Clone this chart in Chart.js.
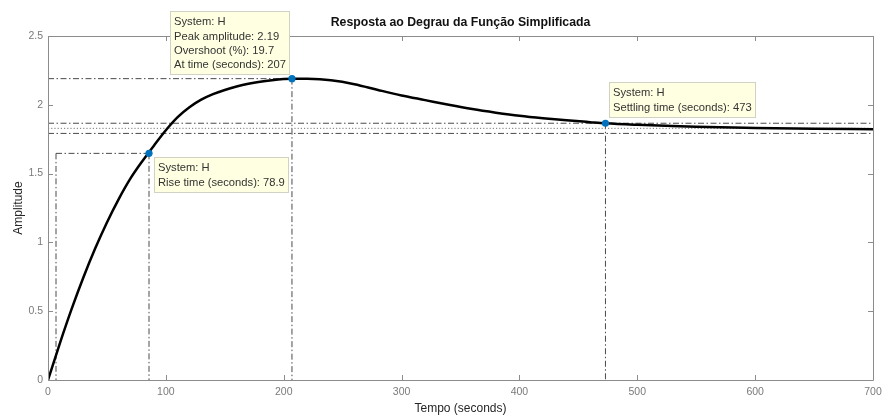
<!DOCTYPE html>
<html>
<head>
<meta charset="utf-8">
<script src="https://cdn.jsdelivr.net/npm/chart.js@4"></script>
<style>
  html, body { margin: 0; padding: 0; background: #ffffff; }
  #wrap { width: 882px; height: 416px; }
</style>
</head>
<body>
<div id="wrap"><canvas id="step" width="882" height="416"></canvas></div>
<script>
// Step response of the simplified transfer function H
const timeSec = [0, 10, 20, 30, 40, 50, 60, 70, 80, 90, 100, 110, 120, 130, 140, 150, 160, 170, 180, 190,
                 200, 207, 220, 240, 260, 280, 300, 320, 340, 360, 380, 400, 420, 440, 460, 473, 500, 525,
                 550, 600, 650, 700];
const amplitude = [0, 0.265, 0.515, 0.745, 0.955, 1.145, 1.315, 1.465, 1.59, 1.705, 1.815, 1.91, 1.982, 2.037,
                   2.077, 2.108, 2.133, 2.153, 2.168, 2.179, 2.187, 2.19, 2.189, 2.178, 2.15, 2.108, 2.068,
                   2.034, 2.0, 1.969, 1.943, 1.92, 1.902, 1.887, 1.874, 1.866, 1.855, 1.847, 1.84, 1.832,
                   1.826, 1.822];

// Step characteristics
const riseTimes = [6.8, 85.7];          // 10% and 90% crossing times
const riseLevel = 1.647;                // 90% of final value
const peakTime = 207;
const peakAmp = 2.19;
const settleTime = 473;
const finalValue = 1.829;
const settleBand = [1.792, 1.866];      // +/- 2% band

const xTicks = [0, 100, 200, 300, 400, 500, 600, 700];
const yTicks = [0, 0.5, 1, 1.5, 2, 2.5];

const chartTitle = 'Resposta ao Degrau da Função Simplificada';
const riseText = ['System: H', 'Rise time (seconds): 78.9'];
const peakText = ['System: H', 'Peak amplitude: 2.19', 'Overshoot (%): 19.7', 'At time (seconds): 207'];
const settleText = ['System: H', 'Settling time (seconds): 473'];

const FONT = '"Liberation Sans", Arial, Helvetica, sans-serif';
const DASHDOT = [6, 2.5, 1.5, 2.5];
const LINE_GREY = '#4a4a4a';

const xMin = xTicks[0], xMax = xTicks[xTicks.length - 1];

function seg(points) { return points.map(p => ({ x: p[0], y: p[1] })); }

const charLine = (points, dash, color) => ({
  type: 'line',
  data: seg(points),
  borderColor: color || LINE_GREY,
  borderWidth: 1,
  borderDash: dash || DASHDOT,
  pointRadius: 0,
  tension: 0,
  order: 3
});

const datasets = [
  {
    label: 'H',
    type: 'line',
    data: timeSec.map((t, i) => ({ x: t, y: amplitude[i] })),
    borderColor: '#000000',
    borderWidth: 2.5,
    pointRadius: 0,
    cubicInterpolationMode: 'monotone',
    order: 1
  },
  // peak
  charLine([[xMin, peakAmp], [peakTime, peakAmp]]),
  charLine([[peakTime, peakAmp], [peakTime, 0]]),
  // rise
  charLine([[riseTimes[0], riseLevel], [riseTimes[1], riseLevel]]),
  charLine([[riseTimes[0], riseLevel], [riseTimes[0], 0]]),
  charLine([[riseTimes[1], riseLevel], [riseTimes[1], 0]]),
  // settling
  charLine([[xMin, settleBand[1]], [xMax, settleBand[1]]]),
  charLine([[xMin, settleBand[0]], [xMax, settleBand[0]]]),
  charLine([[xMin, finalValue], [xMax, finalValue]], [1.2, 2], '#777777'),
  charLine([[settleTime, settleBand[1]], [settleTime, 0]]),
  {
    type: 'scatter',
    data: seg([[riseTimes[1], riseLevel], [peakTime, peakAmp], [settleTime, settleBand[1]]]),
    backgroundColor: '#0072BD',
    borderColor: '#0072BD',
    pointRadius: 3.6,
    pointBorderWidth: 0,
    order: 0
  }
];

// Axes frame with inward tick marks on all four sides, plus the title centred over the plot
const framePlugin = {
  id: 'frame',
  afterDatasetsDraw(chart) {
    const { ctx, chartArea: a, scales: { x, y } } = chart;
    ctx.save();
    ctx.strokeStyle = '#8c8c8c';
    ctx.lineWidth = 1;
    ctx.beginPath();
    ctx.rect(Math.round(a.left) + 0.5, Math.round(a.top) + 0.5,
             Math.round(a.right - a.left), Math.round(a.bottom - a.top));
    const len = 5;
    xTicks.forEach(v => {
      const px = Math.round(x.getPixelForValue(v)) + 0.5;
      ctx.moveTo(px, a.bottom); ctx.lineTo(px, a.bottom - len);
      ctx.moveTo(px, a.top); ctx.lineTo(px, a.top + len);
    });
    yTicks.forEach(v => {
      const py = Math.round(y.getPixelForValue(v)) + 0.5;
      ctx.moveTo(a.left, py); ctx.lineTo(a.left + len, py);
      ctx.moveTo(a.right, py); ctx.lineTo(a.right - len, py);
    });
    ctx.stroke();

    ctx.fillStyle = '#111111';
    ctx.font = 'bold 12.3px ' + FONT;
    ctx.textAlign = 'center';
    ctx.textBaseline = 'middle';
    ctx.fillText(chartTitle, (a.left + a.right) / 2, a.top - 13);
    ctx.restore();
  }
};

// Data-tip boxes next to the characteristic points
const tipPlugin = {
  id: 'tips',
  afterDraw(chart) {
    const { ctx, scales: { x, y } } = chart;
    const tips = [
      { t: riseTimes[1], v: riseLevel, lines: riseText, side: 'below-right' },
      { t: peakTime, v: peakAmp, lines: peakText, side: 'above-left' },
      { t: settleTime, v: settleBand[1], lines: settleText, side: 'above-right' }
    ];
    ctx.save();
    ctx.font = '11.2px ' + FONT;
    const lh = 14.2, padX = 3.5, padY = 3.3;
    tips.forEach(tip => {
      const px = x.getPixelForValue(tip.t), py = y.getPixelForValue(tip.v);
      const w = Math.max(...tip.lines.map(s => ctx.measureText(s).width)) + 2 * padX;
      const h = tip.lines.length * lh + 2 * padY;
      let left, top;
      if (tip.side === 'below-right') { left = px + 4.5; top = py + 4; }
      else if (tip.side === 'above-left') { left = px - 3 - w; top = py - 4 - h; }
      else { left = px + 4; top = py - 6 - h; }
      left = Math.round(left) + 0.5; top = Math.round(top) + 0.5;
      ctx.fillStyle = '#ffffe1';
      ctx.strokeStyle = '#d2d2c4';
      ctx.lineWidth = 1;
      ctx.fillRect(left, top, Math.round(w), Math.round(h));
      ctx.strokeRect(left, top, Math.round(w), Math.round(h));
      ctx.fillStyle = '#333333';
      ctx.textBaseline = 'middle';
      ctx.textAlign = 'left';
      tip.lines.forEach((s, i) => {
        ctx.fillText(s, left + padX, top + padY + lh * i + lh / 2 + 0.5);
      });
    });
    ctx.restore();
  }
};

new Chart(document.getElementById('step'), {
  data: { datasets },
  options: {
    responsive: false,
    animation: false,
    devicePixelRatio: 1,
    layout: { padding: { left: 0, right: 9, top: 36, bottom: 0 } },
    plugins: {
      legend: { display: false },
      tooltip: { enabled: false },
      title: { display: false }
    },
    scales: {
      x: {
        type: 'linear',
        min: xMin, max: xMax,
        afterBuildTicks: s => { s.ticks = xTicks.map(v => ({ value: v })); },
        ticks: { color: '#7a7a7a', font: { family: FONT, size: 10.5 }, padding: 6, maxRotation: 0,
                 callback: v => String(v) },
        grid: { display: false, drawTicks: false, tickLength: 0 },
        border: { display: false },
        title: { display: true, text: 'Tempo (seconds)', color: '#262626',
                 font: { family: FONT, size: 12 }, padding: { top: 0, bottom: 0 } },
        afterFit: s => { s.height = 36; s.paddingRight = 0; s.paddingLeft = 0; }
      },
      y: {
        type: 'linear',
        min: yTicks[0], max: yTicks[yTicks.length - 1],
        afterBuildTicks: s => { s.ticks = yTicks.map(v => ({ value: v })); },
        ticks: { color: '#7a7a7a', font: { family: FONT, size: 10.5 }, padding: 5,
                 callback: v => String(v) },
        grid: { display: false, drawTicks: false, tickLength: 0 },
        border: { display: false },
        title: { display: true, text: 'Amplitude', color: '#262626',
                 font: { family: FONT, size: 12 }, padding: { top: 11, bottom: 0 } },
        afterFit: s => { s.width = 48; }
      }
    }
  },
  plugins: [framePlugin, tipPlugin]
});
</script>
</body>
</html>
